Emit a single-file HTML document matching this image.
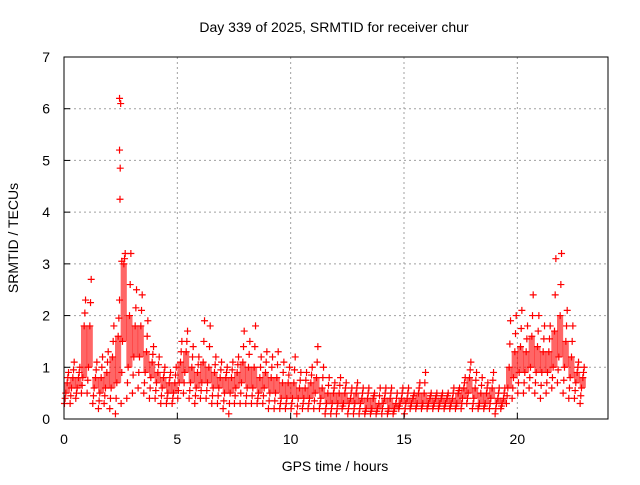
<!DOCTYPE html>
<html><head><meta charset="utf-8"><style>
body{margin:0;background:#fff;}
svg text{font-family:"Liberation Sans",sans-serif;font-size:14px;fill:#000;}
</style></head><body>
<svg id="chart" width="640" height="480" xmlns="http://www.w3.org/2000/svg">
<rect width="640" height="480" fill="#fff"/>
<g id="grid"></g>
<g id="band"></g>
<g id="marks"></g>
<rect x="64" y="57" width="544" height="362" fill="none" stroke="#000" stroke-width="1"/>
<g id="ticks"></g>
<text x="334" y="32" text-anchor="middle">Day 339 of 2025, SRMTID for receiver chur</text>
<text x="335" y="471" text-anchor="middle">GPS time / hours</text>
<text transform="translate(18,238) rotate(-90)" text-anchor="middle">SRMTID / TECUs</text>
</svg>
<script>
const xTicks=[0,5,10,15,20];
const yTicks=[0,1,2,3,4,5,6,7];
const binStart=[0,0.25,0.5,0.75,1,1.25,1.5,1.75,2,2.25,2.5,2.75,3,3.25,3.5,3.75,4,4.25,4.5,4.75,5,5.25,5.5,5.75,6,6.25,6.5,6.75,7,7.25,7.5,7.75,8,8.25,8.5,8.75,9,9.25,9.5,9.75,10,10.25,10.5,10.75,11,11.25,11.5,11.75,12,12.25,12.5,12.75,13,13.25,13.5,13.75,14,14.25,14.5,14.75,15,15.25,15.5,15.75,16,16.25,16.5,16.75,17,17.25,17.5,17.75,18,18.25,18.5,18.75,19,19.25,19.5,19.75,20,20.25,20.5,20.75,21,21.25,21.5,21.75,22,22.25,22.5,22.75];
const lowVals=[.3,.3,.4,.5,.5,.3,.2,.3,.2,.1,.3,.4,.5,.6,.5,.4,.4,.3,.3,.3,.4,.5,.4,.3,.4,.4,.3,.3,.2,.1,.3,.3,.3,.3,.3,.3,.2,.2,.2,.2,.2,.1,.2,.2,.2,.2,.1,.1,.1,.2,.1,.1,.1,.1,.1,.1,.1,.1,.1,.2,.1,.2,.2,.2,.2,.2,.2,.2,.2,.2,.2,.3,.2,.2,.2,.2,.1,.2,.3,.4,.5,.5,.6,.5,.4,.5,.6,.7,.5,.4,.4,.3];
const midLowVals=[.5,.6,.6,.8,1.0,.6,.5,.6,.6,.7,1.5,1.0,1.2,1.2,.9,.8,.7,.6,.5,.5,.7,.9,.7,.6,.7,.7,.6,.6,.5,.5,.6,.7,.6,.6,.5,.6,.5,.5,.4,.4,.4,.4,.4,.4,.5,.4,.3,.3,.3,.3,.3,.3,.3,.2,.2,.2,.3,.2,.2,.3,.3,.3,.3,.3,.3,.3,.3,.3,.3,.3,.4,.5,.4,.3,.3,.4,.3,.3,.6,.8,.9,.9,1.0,.9,.9,.9,1.0,1.2,1.0,.8,.7,.6];
const midHighVals=[.7,.8,.8,1.8,1.8,.8,.8,.9,1.2,1.6,3.0,2.0,1.8,1.8,1.3,1.1,.9,.8,.7,.7,1.1,1.3,1.0,.9,1.1,1.0,.9,.8,.8,.8,.9,1.1,1.0,1.0,.8,.9,.8,.8,.7,.7,.7,.6,.6,.7,.8,.6,.5,.5,.5,.5,.4,.5,.4,.4,.4,.3,.4,.4,.3,.4,.4,.4,.5,.5,.4,.4,.4,.4,.4,.5,.6,.8,.6,.5,.5,.6,.4,.4,1.0,1.3,1.4,1.3,1.6,1.4,1.3,1.3,1.7,2.0,1.5,1.2,.9,.8];
const highVals=[.9,1.1,1.0,2.3,2.7,1.1,1.2,1.3,1.8,2.3,3.2,3.2,2.5,2.4,1.9,1.4,1.2,1.0,.9,1.0,1.5,1.7,1.4,1.2,1.9,1.8,1.2,1.1,1.0,1.1,1.2,1.7,1.5,1.8,1.2,1.3,1.2,1.3,1.1,1.0,1.2,.9,.9,1.0,1.4,1.0,.8,.7,.8,.7,.6,.7,.6,.6,.5,.6,.6,.6,.5,.6,.6,.5,.7,.9,.5,.5,.5,.5,.6,.6,.8,1.1,.9,.8,.7,.9,.6,.6,1.9,2.0,2.1,1.8,2.4,2.0,1.8,1.8,3.1,3.2,2.1,1.8,1.1,1.0];
const spikeTimes=[2.45,2.5,2.45,2.48,2.47,2.55];
const spikeVals=[6.2,6.1,5.2,4.85,4.25,3.05];

const svg=document.getElementById('chart');
const NS='http://www.w3.org/2000/svg';
const X0=64,X1=608,Y0=419,Y1=57;
const xs=h=>X0+h*(X1-X0)/24;
const ys=v=>Y0-v*(Y0-Y1)/7;
const grid=document.getElementById('grid'),ticks=document.getElementById('ticks');
function mk(tag,attrs,parent){const e=document.createElementNS(NS,tag);for(const k in attrs)e.setAttribute(k,attrs[k]);parent.appendChild(e);return e;}
xTicks.forEach(t=>{
  const x=xs(t);
  if(t>0){const g=mk('line',{x1:x,x2:x,y1:Y1,y2:Y0,stroke:'#a0a0a0','stroke-dasharray':'2,3'},grid);
  
  }
  mk('line',{x1:x,x2:x,y1:Y0,y2:Y0-6,stroke:'#000'},ticks);
  const tx=mk('text',{x:x,y:Y0+25,'text-anchor':'middle'},ticks);tx.textContent=t;
  
  
});
yTicks.forEach(t=>{
  const y=ys(t);
  if(t>0&&t<7){const g=mk('line',{x1:X0,x2:X1,y1:y,y2:y,stroke:'#a0a0a0','stroke-dasharray':'2,3'},grid);
  
  }
  mk('line',{x1:X0,x2:X0+6,y1:y,y2:y,stroke:'#000'},ticks);
  const tx=mk('text',{x:X0-14,y:y+5,'text-anchor':'end'},ticks);tx.textContent=t;
  
  
});
const band=document.getElementById('band'),marks=document.getElementById('marks');
binStart.forEach((t,i)=>{
  const r=mk('rect',{x:xs(t),y:ys(midHighVals[i]),width:xs(0.25)-xs(0)+0.5,height:Math.max(1,ys(midLowVals[i])-ys(midHighVals[i])),fill:'#ff0000','fill-opacity':0.6},band);
  
  
});
function plus(h,v,col){
  const x=xs(h),y=ys(v);
  const p=mk('path',{d:`M${x-3.5},${y}H${x+3.5}M${x},${y-3.5}V${y+3.5}`,stroke:col,'stroke-width':1.2,fill:'none'},marks);
  
  
}
const series=[lowVals,midLowVals,midHighVals,highVals];
const offs=[0.02,0.08,0.14,0.2,0.05,0.17];
binStart.forEach((t,i)=>{
  series.forEach((arr,k)=>plus(t+offs[k],arr[i],'#ff0000'));
  plus(t+offs[4],(lowVals[i]+midLowVals[i])/2,'#ff0000');
  plus(t+offs[5],(midHighVals[i]+highVals[i])/2,'#ff0000');
});
spikeTimes.forEach((t,i)=>plus(t,spikeVals[i],'#ff0000'));
</script>
</body></html>
